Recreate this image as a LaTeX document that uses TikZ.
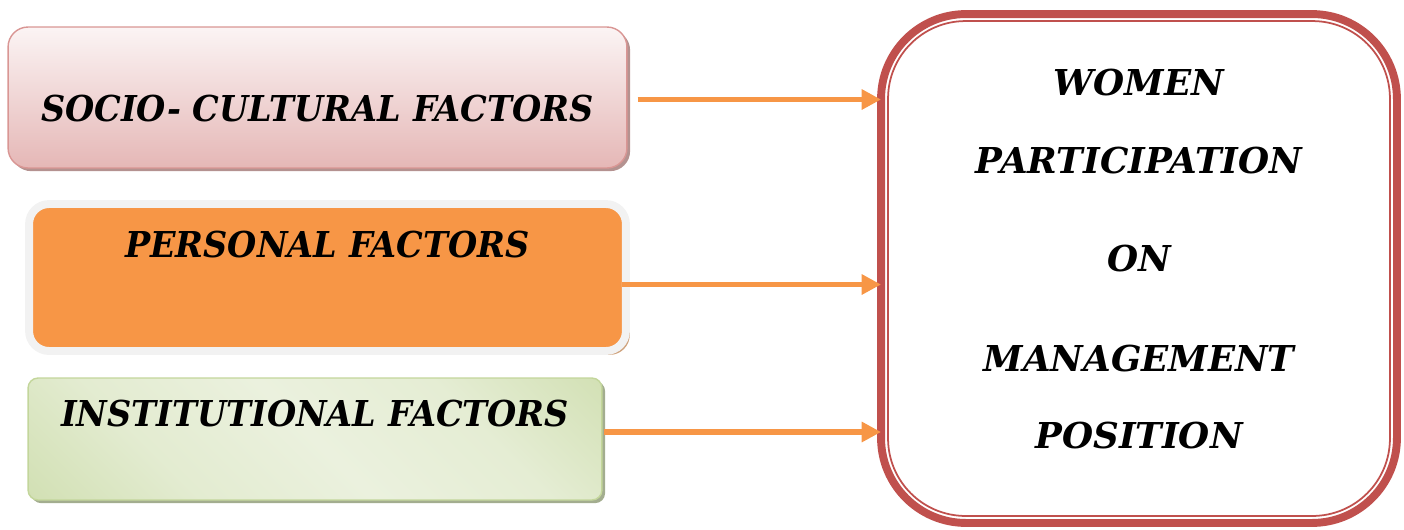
\documentclass[tikz,border=0pt]{standalone}
\usepackage{xcolor}
\usepackage{fontspec}
\usepackage{tikz}
\usetikzlibrary{
  arrows.meta,
  shadows
}

\newfontfamily\boxfont{DejaVu Serif}[FakeStretch=0.94]
\newfontfamily\resultfont{DejaVu Serif}

\definecolor{rosetop}{HTML}{FBF4F4}
\definecolor{rosefill}{HTML}{E5B7B6}
\definecolor{roseline}{HTML}{D99694}
\definecolor{roseshadow}{HTML}{B49290}
\definecolor{orangefill}{HTML}{F79646}
\definecolor{orangeshadow}{HTML}{CFA27C}
\definecolor{paleborder}{HTML}{F2F2F2}
\definecolor{greendark}{HTML}{C3D69B}
\definecolor{greenlight}{HTML}{EBF1DE}
\definecolor{greenshadow}{HTML}{A3AD8F}
\definecolor{redline}{HTML}{C0504D}

\pgfdeclareverticalshading{instgrad}{100bp}{color(0bp)=(greendark); color(32bp)=(greenlight!80!greendark); color(50bp)=(greenlight); color(68bp)=(greenlight!85!greendark); color(100bp)=(greendark)}

\begin{document}
\begin{tikzpicture}[
  x=0.02cm, y=-0.02cm,
  factor/.style={rounded corners=0.4cm, font=\boxfont\fontsize{20.3}{24}\selectfont\bfseries\itshape, align=center, inner sep=0pt},
  result/.style={draw=redline, line width=4.5pt, rounded corners=1.7cm, outer sep=0pt, font=\resultfont\fontsize{20.3}{44.2}\selectfont\bfseries\itshape, align=center},
  flow/.style={draw=orangefill, line width=3.4pt, -{Triangle[length=11pt, width=11pt]}},
]
\useasboundingbox (0,0) rectangle (1404,529);

% Factores
\node[factor, draw=roseline, line width=0.8pt, top color=rosetop, bottom color=rosefill,
  drop shadow={shadow xshift=1.8pt, shadow yshift=-1.8pt, fill=roseshadow, opacity=1},
  minimum width=12.38cm, minimum height=2.82cm, text height=28pt, text depth=1pt]
  (soc) at (317.5, 97.5) {SOCIO- CULTURAL FACTORS};
\node[factor, draw=paleborder, line width=4.5pt, fill=orangefill,
  drop shadow={shadow xshift=2.2pt, shadow yshift=-2.2pt, fill=orangeshadow, opacity=1},
  minimum width=11.94cm, minimum height=2.94cm, text height=17pt, text depth=40pt]
  (pers) at (327.5, 277.5) {PERSONAL FACTORS};
\node[factor, rounded corners=0.2cm, draw=greendark, line width=0.8pt,
  shading=instgrad, shading angle=-45,
  drop shadow={shadow xshift=1.8pt, shadow yshift=-1.8pt, fill=greenshadow, opacity=1},
  minimum width=11.48cm, minimum height=2.44cm, text height=17pt, text depth=31pt]
  (inst) at (315, 439) {INSTITUTIONAL FACTORS};

% Resultado
\node[result, minimum width=10.32cm, minimum height=10.18cm, text depth=11pt]
  (wpm) at (1139, 268.5) {WOMEN\\PARTICIPATION\\[11.6pt]ON\\[12.7pt]MANAGEMENT\\POSITION};
\draw[redline, line width=1pt, rounded corners=1.55cm]
  ([shift={(7,7)}]wpm.north west) rectangle ([shift={(-7,-7)}]wpm.south east);

% Flechas
\coordinate (s1) at ([shift={(10,2)}]soc.east);
\coordinate (s2) at ([shift={(-8,7)}]pers.east);
\coordinate (s3) at ([shift={(1,-7)}]inst.east);
\draw[flow] (s1) -- (s1 -| wpm.west);
\draw[flow] (s2) -- (s2 -| wpm.west);
\draw[flow] (s3) -- (s3 -| wpm.west);

\end{tikzpicture}
\end{document}
